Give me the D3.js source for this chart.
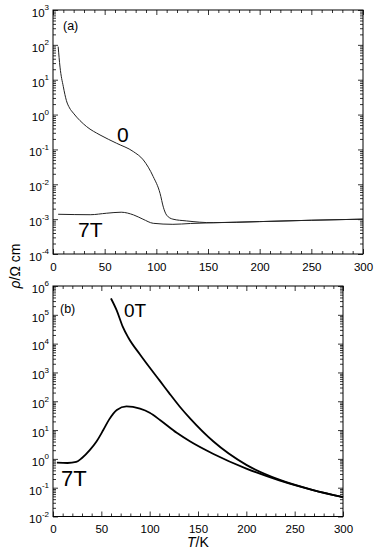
<!DOCTYPE html>
<html>
<head>
<meta charset="utf-8">
<script src="https://cdn.jsdelivr.net/npm/d3@7"></script>
<style>
  body { margin: 0; background: #fff; }
  text { font-family: "Liberation Sans", Arial, sans-serif; }
</style>
</head>
<body>
<svg id="chart" width="377" height="551"></svg>
<script>
// panel (a): resistivity vs T, 0 and 7 T
var tempA0 = [5, 6.8, 10, 13, 16, 19.7, 32.6, 45.5, 61.6, 77.7, 87.4, 97, 103.6, 106.8, 110, 116, 129, 155, 200, 250, 300];
var rhoA0 = [89, 23, 6.3, 2.5, 1.55, 1.1, 0.45, 0.26, 0.15, 0.087, 0.05, 0.0166, 0.0055, 0.0022, 0.0013, 0.001, 0.00089, 0.00079, 0.00085, 0.00093, 0.001];
var tempA7 = [5, 36, 52, 66, 78, 87, 97, 116, 133, 155, 200, 250, 300];
var rhoA7 = [0.00138, 0.00134, 0.00148, 0.00158, 0.00132, 0.001, 0.00076, 0.00071, 0.00075, 0.00079, 0.00085, 0.00093, 0.001];

// panel (b)
var tempB0 = [60, 66, 72, 78, 90, 100, 110, 120, 131, 142, 166, 200, 234, 269, 300];
var rhoB0 = [3.7e5, 1.4e5, 4.0e4, 1.6e4, 4.2e3, 1.48e3, 540, 195, 66, 25, 4.0, 0.62, 0.19, 0.083, 0.047];
var tempB7 = [4, 15, 24, 30, 38, 45, 52, 58, 66, 76, 90, 100, 111, 128, 142, 166, 200, 234, 269, 300];
var rhoB7 = [0.74, 0.72, 0.78, 1.07, 2.0, 4.0, 10, 23, 50, 66, 55, 40, 22, 8.0, 4.0, 1.48, 0.46, 0.18, 0.083, 0.047];

var xTicks = [0, 50, 100, 150, 200, 250, 300];
var yTicksA = [-4, -3, -2, -1, 0, 1, 2, 3];
var yTicksB = [-2, -1, 0, 1, 2, 3, 4, 5, 6];

var svg = d3.select("#chart");

var drawPanel = function(p) {
  const x = d3.scaleLinear().domain([0, 300]).range([p.left, p.right]);
  const y = d3.scaleLog().domain([Math.pow(10, p.exps[0]), Math.pow(10, p.exps[p.exps.length - 1])]).range([p.bottom, p.top]);
  const g = svg.append("g");

  const minorX = d3.range(0, 301, 10).filter(d => d % 50 != 0);
  let minorY = [];
  p.exps.slice(0, -1).forEach(e => {
    for (let k = 2; k < 10; k++) minorY.push(k * Math.pow(10, e));
  });
  const majorY = p.exps.map(e => Math.pow(10, e));

  // major + minor ticks, inward on all four sides
  const axes = [
    [d3.axisBottom(x), p.bottom, 0, "x"],
    [d3.axisTop(x), p.top, 0, "x"],
    [d3.axisLeft(y), 0, p.left, "y"],
    [d3.axisRight(y), 0, p.right, "y"]
  ];
  axes.forEach(function(a, i) {
    const major = a[3] == "x" ? xTicks : majorY;
    const minor = a[3] == "x" ? minorX : minorY;
    g.append("g")
      .attr("transform", "translate(" + a[2] + "," + a[1] + ")")
      .call(a[0].tickValues(minor).tickSizeInner(-3).tickSizeOuter(0).tickFormat(""))
      .call(s => s.select(".domain").remove());
    const ax = g.append("g")
      .attr("class", "ax" + i)
      .attr("transform", "translate(" + a[2] + "," + a[1] + ")")
      .call(a[0].tickValues(major).tickSizeInner(-5).tickSizeOuter(0)
        .tickPadding(i == 0 ? p.xPad : 4)
        .tickFormat(i == 0 ? d3.format("d") : (i == 2 ? () => "10" : "")));
    ax.select(".domain").remove();
    ax.selectAll("text").attr("font-size", 11.5).attr("fill", "#000")
      .style("font-family", "'Liberation Sans', Arial, sans-serif");
  });

  // superscript exponents on the y labels
  g.select(".ax2").selectAll(".tick text")
    .attr("dy", "0.55em")
    .append("tspan")
    .attr("font-size", 8)
    .attr("dy", "-0.8em")
    .text(d => Math.round(Math.log10(d)));

  g.selectAll(".tick line").attr("stroke", "#000").attr("stroke-width", 0.8);

  g.append("rect")
    .attr("x", p.left).attr("y", p.top)
    .attr("width", p.right - p.left).attr("height", p.bottom - p.top)
    .attr("fill", "none").attr("stroke", "#000").attr("stroke-width", 1);

  const line = d3.line()
    .x(d => x(d[0]))
    .y(d => y(d[1]))
    .curve(d3.curveMonotoneX);

  p.series.forEach(function(s) {
    g.append("path")
      .datum(d3.zip(s.t, s.r))
      .attr("d", line)
      .attr("fill", "none")
      .attr("stroke", p.color)
      .attr("stroke-width", p.lw);
  });

  p.labels.forEach(function(l) {
    g.append("text")
      .attr("x", l[0]).attr("y", l[1])
      .attr("font-size", l[3])
      .text(l[2]);
  });
}

drawPanel({
  left: 53, right: 363, top: 10, bottom: 254, xPad: 9,
  exps: yTicksA, color: "#222", lw: 1,
  series: [{t: tempA0, r: rhoA0}, {t: tempA7, r: rhoA7}],
  labels: [[63, 30, "(a)", 12.5], [117, 142, "0", 21], [78, 237, "7T", 21]]
});

drawPanel({
  left: 53, right: 343, top: 286, bottom: 516.5, xPad: 8,
  exps: yTicksB, color: "#000", lw: 1.8,
  series: [{t: tempB0, r: rhoB0}, {t: tempB7, r: rhoB7}],
  labels: [[60, 313, "(b)", 12.5], [124, 317, "0T", 19], [61, 486, "7T", 22]]
});

// axis titles
var yl = svg.append("text")
  .attr("transform", "translate(20,266) rotate(-90)")
  .attr("text-anchor", "middle")
  .attr("font-size", 14);
yl.append("tspan").attr("font-style", "italic").text("ρ");
yl.append("tspan").text("/Ω cm");

var xl = svg.append("text")
  .attr("x", 187).attr("y", 547)
  .attr("font-size", 14);
xl.append("tspan").attr("font-style", "italic").text("T");
xl.append("tspan").text("/K");
</script>
</body>
</html>
